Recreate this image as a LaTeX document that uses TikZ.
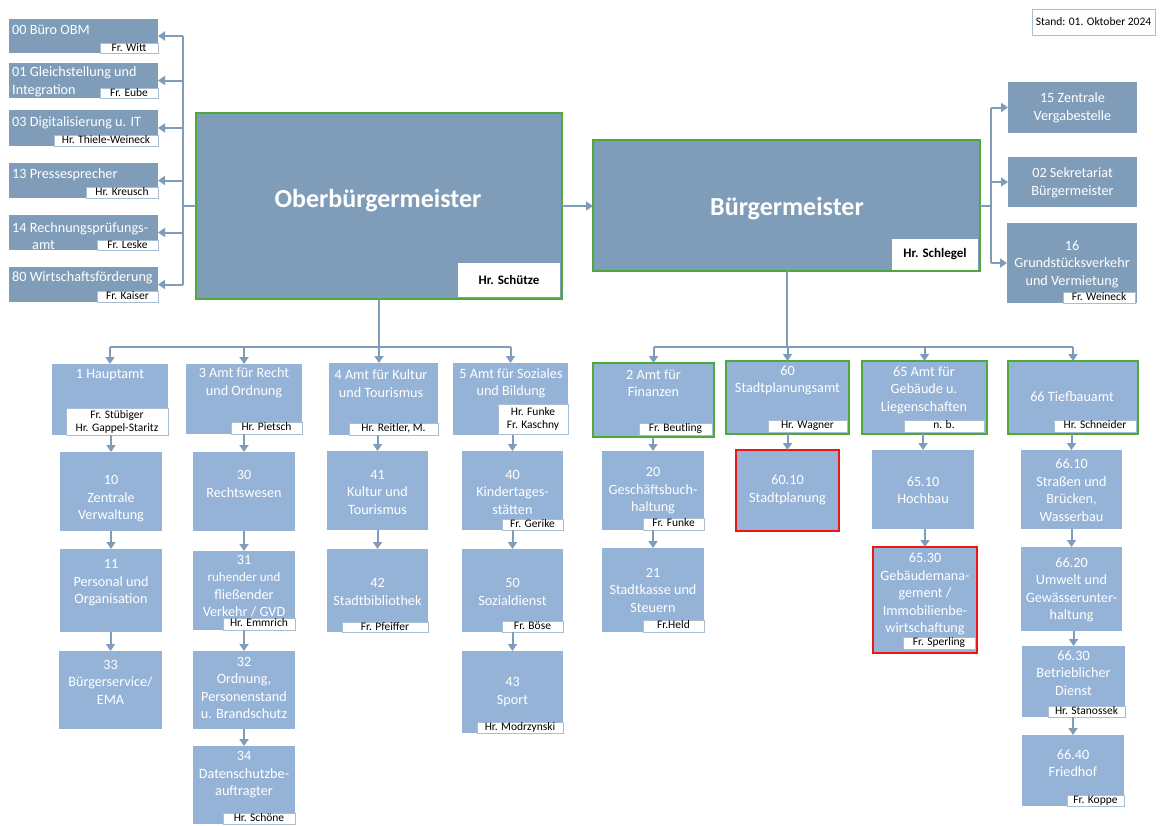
\documentclass[tikz,border=0pt]{standalone}
\usepackage{fontspec}
\setmainfont{Carlito}
\usetikzlibrary{arrows.meta}

\definecolor{topfill}{HTML}{7F9DB9}
\definecolor{lowfill}{HTML}{95B3D7}
\definecolor{conn}{HTML}{7F9DB9}
\definecolor{frame}{HTML}{4FA83A}
\definecolor{alarm}{HTML}{EE1515}
\definecolor{tagline}{HTML}{A9BED3}

\newcommand\bodyfont{\fontsize{14.2}{17.5}\selectfont}
\newcommand\smallbody{\fontsize{13}{16}\selectfont}
\newcommand\tagfont{\fontsize{11.5}{13}\selectfont}
\newcommand\titlefont{\fontsize{26}{30}\selectfont\bfseries}

% box from (x1,y1) to (x2,y2), y counted downwards
\newcommand\orgbox[6]{\node[#6, minimum width={#4-#2}, minimum height={#5-#3}] (#1) at (#2,#3) {};}
\newcommand\nametag[7]{\node[#6, minimum width={#4-#2}, minimum height={#5-#3}] (#1) at (#2,#3) {#7};}

\tikzset{
  x=1pt, y=-1pt,
  boxbase/.style={anchor=north west, inner sep=0pt, outer sep=0pt, rectangle},
  topbox/.style={boxbase, fill=topfill},
  lowbox/.style={boxbase, fill=lowfill},
  greenbox/.style={boxbase, fill=lowfill, draw=frame, line width=2.5pt},
  chiefbox/.style={boxbase, fill=topfill, draw=frame, line width=2.5pt},
  redbox/.style={boxbase, fill=lowfill, draw=alarm, line width=2.5pt},
  tag/.style={boxbase, fill=white, draw=tagline, line width=0.8pt, font=\tagfont,
    text=black, align=center, text height=8pt, text depth=2.5pt},
  tagtwo/.style={boxbase, fill=white, draw=tagline, line width=0.8pt, font=\tagfont,
    text=black, align=center},
  chieftag/.style={boxbase, fill=white, font=\fontsize{13}{15}\selectfont\bfseries, text=black},
  datebox/.style={boxbase, fill=white, draw=tagline, line width=0.9pt,
    font=\fontsize{11.5}{13}\selectfont, text=black},
  body/.style={font=\bodyfont, text=white, align=center, inner sep=0pt},
  leftbody/.style={font=\bodyfont, text=white, align=left, inner sep=0pt, anchor=west},
  title/.style={font=\titlefont, text=white, inner sep=0pt},
  arr/.style={draw=conn, line width=2pt, -{Triangle[width=9pt,length=7pt]}},
  wire/.style={draw=conn, line width=2pt},
}

\begin{document}
\begin{tikzpicture}
\fill[white] (0,0) rectangle (1161,825);
\useasboundingbox (0,0) rectangle (1161,825);

% ---- staff units of the Oberbürgermeister
\orgbox{b00}{9}{19}{158}{53}{topbox}
\orgbox{b01}{9}{63}{158}{98}{topbox}
\orgbox{b03}{9}{110}{158}{146}{topbox}
\orgbox{b13}{9}{163}{158}{198}{topbox}
\orgbox{b14}{9}{215}{158}{250}{topbox}
\orgbox{b80}{9}{267}{158}{302}{topbox}
\node[leftbody] (b00t) at (12,30) {00 Büro OBM};
\node[leftbody] (b01t) at (12,82) {01 Gleichstellung und\\Integration};
\node[leftbody] (b03t) at (12,123) {03 Digitalisierung u. IT};
\node[leftbody] (b13t) at (12,175) {13 Pressesprecher};
\node[leftbody] (b14t) at (12,236) {14 Rechnungsprüfungs-\\\hspace*{20pt}amt};
\node[leftbody] (b80t) at (12,278) {80 Wirtschaftsförderung};
\nametag{b00g}{100}{43}{158}{53}{tag}{Fr. Witt}
\nametag{b01g}{100}{88}{158}{98}{tag}{Fr. Eube}
\nametag{b03g}{54}{135}{158}{146}{tag}{Hr. Thiele-Weineck}
\nametag{b13g}{86}{187}{158}{198}{tag}{Hr. Kreusch}
\nametag{b14g}{97}{240}{158}{250}{tag}{Fr. Leske}
\nametag{b80g}{97}{291}{158}{302}{tag}{Fr. Kaiser}

% ---- staff units of the Bürgermeister
\orgbox{b15}{1008}{82}{1137}{133}{topbox}
\orgbox{b02}{1008}{157}{1137}{207}{topbox}
\orgbox{b16}{1007}{223}{1137}{303}{topbox}
\node[body] (b15t) at (1072.5,108) {15 Zentrale\\Vergabestelle};
\node[body] (b02t) at (1072.5,183) {02 Sekretariat\\Bürgermeister};
\node[body] (b16t) at (1072,264) {16\\Grundstücksverkehr\\und Vermietung};
\nametag{b16g}{1063}{292}{1135}{303}{tag}{Fr. Weineck}

% ---- date
\nametag{stand}{1032}{9}{1155}{35}{datebox}{Stand: 01. Oktober 2024}

% ---- heads
\orgbox{obm}{196}{113}{562}{299}{chiefbox}
\node[title] (obmt) at (378,201) {Oberbürgermeister};
\nametag{obmg}{458}{263}{560}{297}{chieftag}{Hr. Schütze}
\orgbox{bm}{593}{140}{980}{271}{chiefbox}
\node[title] (bmt) at (787,209) {Bürgermeister};
\nametag{bmg}{892}{239}{978}{270}{chieftag}{Hr. Schlegel}

% ---- offices under the Oberbürgermeister
\orgbox{a1}{52}{364}{168}{435}{lowbox}
\node[body] (a1t) at (110,375) {1 Hauptamt};
\nametag{a1g}{66}{408}{168}{435}{tagtwo}{Fr. Stübiger\\Hr. Gappel-Staritz}
\orgbox{d10}{60}{452}{162}{531}{lowbox}
\node[body] (d10t) at (111,499) {10\\Zentrale\\Verwaltung};
\orgbox{d11}{60}{549}{162}{632}{lowbox}
\node[body] (d11t) at (111,583) {11\\Personal und\\Organisation};
\orgbox{d33}{59}{651}{162}{729}{lowbox}
\node[body] (d33t) at (110.5,682) {33\\Bürgerservice/\\EMA};

\orgbox{a3}{186}{364}{302}{434}{lowbox}
\node[body] (a3t) at (244,383) {3 Amt für Recht\\und Ordnung};
\nametag{a3g}{231}{422}{302}{434}{tag}{Hr. Pietsch}
\orgbox{d30}{193}{452}{295}{531}{lowbox}
\node[body] (d30t) at (244,484) {30\\Rechtswesen};
\orgbox{d31}{193}{551}{295}{630}{lowbox}
\node[body] (d31t) at (244,586) {31\\\smallbody ruhender und\\fließender\\Verkehr / GVD};
\nametag{d31g}{223}{618}{295}{630}{tag}{Hr. Emmrich}
\orgbox{d32}{193}{651}{295}{729}{lowbox}
\node[body] (d32t) at (244,688) {32\\Ordnung,\\Personenstand\\u. Brandschutz};
\orgbox{d34}{193}{746}{295}{824}{lowbox}
\node[body] (d34t) at (244,775) {34\\Datenschutzbe-\\auftragter};
\nametag{d34g}{223}{813}{295}{824}{tag}{Hr. Schöne}

\orgbox{a4}{329}{363}{438}{435}{lowbox}
\node[body] (a4t) at (381,383.5) {4 Amt für Kultur\\und Tourismus};
\nametag{a4g}{349}{423}{438}{435}{tag}{Hr. Reitler, M.}
\orgbox{d41}{327}{451}{428}{530}{lowbox}
\node[body] (d41t) at (377.5,492) {41\\Kultur und\\Tourismus};
\orgbox{d42}{327}{549}{428}{632}{lowbox}
\node[body] (d42t) at (377.5,592) {42\\Stadtbibliothek};
\nametag{d42g}{342}{622}{428}{632}{tag}{Fr. Pfeiffer}

\orgbox{a5}{453}{363}{568}{435}{lowbox}
\node[body] (a5t) at (511,383.5) {5 Amt für Soziales\\und Bildung};
\nametag{a5g}{498}{404}{568}{434}{tagtwo}{Hr. Funke\\Fr. Kaschny}
\orgbox{d40}{462}{451}{563}{530}{lowbox}
\node[body] (d40t) at (512.5,492) {40\\Kindertages-\\stätten};
\nametag{d40g}{502}{519}{563}{530}{tag}{Fr. Gerike}
\orgbox{d50}{462}{549}{563}{632}{lowbox}
\node[body] (d50t) at (512.5,592) {50\\Sozialdienst};
\nametag{d50g}{502}{621}{563}{632}{tag}{Fr. Böse}
\orgbox{d43}{462}{651}{563}{733}{lowbox}
\node[body] (d43t) at (512.5,692) {43\\Sport};
\nametag{d43g}{477}{722}{563}{733}{tag}{Hr. Modrzynski}

% ---- offices under the Bürgermeister
\orgbox{a2}{593}{363}{714}{437}{greenbox}
\node[body] (a2t) at (653.5,383) {2 Amt für\\Finanzen};
\nametag{a2g}{639}{423}{712}{435}{tag}{Fr. Beutling}
\orgbox{d20}{602}{451}{704}{530}{lowbox}
\node[body] (d20t) at (653,491) {20\\Geschäftsbuch-\\haltung};
\nametag{d20g}{643}{518}{704}{530}{tag}{Fr. Funke}
\orgbox{d21}{602}{548}{704}{632}{lowbox}
\node[body] (d21t) at (653,590) {21\\Stadtkasse und\\Steuern};
\nametag{d21g}{643}{620}{704}{632}{tag}{Fr.Held}

\orgbox{a60}{726}{361}{849}{434}{greenbox}
\node[body] (a60t) at (787.5,380.5) {60\\Stadtplanungsamt};
\nametag{a60g}{768}{420}{847}{432}{tag}{Hr. Wagner}
\orgbox{d6010}{736}{450}{839}{531}{redbox}
\node[body] (d6010t) at (787.5,490) {60.10\\Stadtplanung};

\orgbox{a65}{862}{361}{987}{434}{greenbox}
\node[body] (a65t) at (924,390) {65 Amt für\\Gebäude u.\\Liegenschaften};
\nametag{a65g}{904}{420}{984}{432}{tag}{n. b.}
\orgbox{d6510}{872}{450}{974}{529}{lowbox}
\node[body] (d6510t) at (923,490) {65.10\\Hochbau};
\orgbox{d6530}{873}{547}{977}{653}{redbox}
\node[body] (d6530t) at (925,594) {65.30\\Gebäudemana-\\gement /\\Immobilienbe-\\wirtschaftung};
\nametag{d6530g}{903}{637}{975}{649}{tag}{Fr. Sperling}

\orgbox{a66}{1008}{361}{1138}{434}{greenbox}
\node[body] (a66t) at (1072,397) {66 Tiefbauamt};
\nametag{a66g}{1054}{420}{1136}{432}{tag}{Hr. Schneider}
\orgbox{d6610}{1021}{450}{1122}{529}{lowbox}
\node[body] (d6610t) at (1071.5,490) {66.10\\Straßen und\\Brücken,\\Wasserbau};
\orgbox{d6620}{1021}{547}{1122}{631}{lowbox}
\node[body] (d6620t) at (1071.5,590) {66.20\\Umwelt und\\Gewässerunter-\\haltung};
\orgbox{d6630}{1022}{646}{1125}{717}{lowbox}
\node[body] (d6630t) at (1073.5,673) {66.30\\Betrieblicher\\Dienst};
\nametag{d6630g}{1048}{706}{1125}{717}{tag}{Hr. Stanossek}
\orgbox{d6640}{1022}{735}{1124}{806}{lowbox}
\node[body] (d6640t) at (1073,763) {66.40\\Friedhof};
\nametag{d6640g}{1067}{795}{1124}{806}{tag}{Fr. Koppe}

% ---- connectors
\coordinate (ltrunk) at (183,0);
\coordinate (rtrunk) at (991,0);
\coordinate (busy) at (0,347);

% staff line left
\draw[wire] (obm.west) -- (obm.west -| ltrunk);
\draw[wire] (ltrunk |- b00.east) -- (ltrunk |- b80.east);
\foreach \b in {b00,b01,b03,b13,b14,b80}
  \draw[arr] (ltrunk |- \b.east) -- (\b.east);

% Oberbürgermeister to Bürgermeister
\draw[arr] (obm.east) -- (obm.east -| bm.west);

% staff line right
\draw[wire] (bm.east) -- (bm.east -| rtrunk);
\draw[wire] (rtrunk |- b15.west) -- (rtrunk |- b16.west);
\foreach \b in {b15,b02,b16}
  \draw[arr] (rtrunk |- \b.west) -- (\b.west);

% bus below the Oberbürgermeister
\draw[wire] (obm.south) -- (obm.south |- busy);
\draw[wire] (a1.north |- busy) -- (a5.north |- busy);
\foreach \a in {a1,a3,a5}
  \draw[arr] (\a.north |- busy) -- (\a.north);
\draw[arr] (obm.south |- busy) -- (obm.south |- a4.north);

% bus below the Bürgermeister
\draw[wire] (bm.south) -- (bm.south |- busy);
\draw[wire] (a2.north |- busy) -- (a66.north |- busy);
\foreach \a in {a2,a60,a65,a66}
  \draw[arr] (\a.north |- busy) -- (\a.north);

% chains inside the offices
\foreach \u/\v in {a1/d10,d10/d11,d11/d33,a3/d30,d30/d31,d31/d32,d32/d34,
                   a4/d41,d41/d42,a5/d40,d40/d50,d50/d43,a2/d20,d20/d21,
                   a60/d6010,a65/d6510,d6510/d6530,
                   a66/d6610,d6610/d6620,d6620/d6630,d6630/d6640}
  \draw[arr] (\v.north |- \u.south) -- (\v.north);
\end{tikzpicture}
\end{document}
